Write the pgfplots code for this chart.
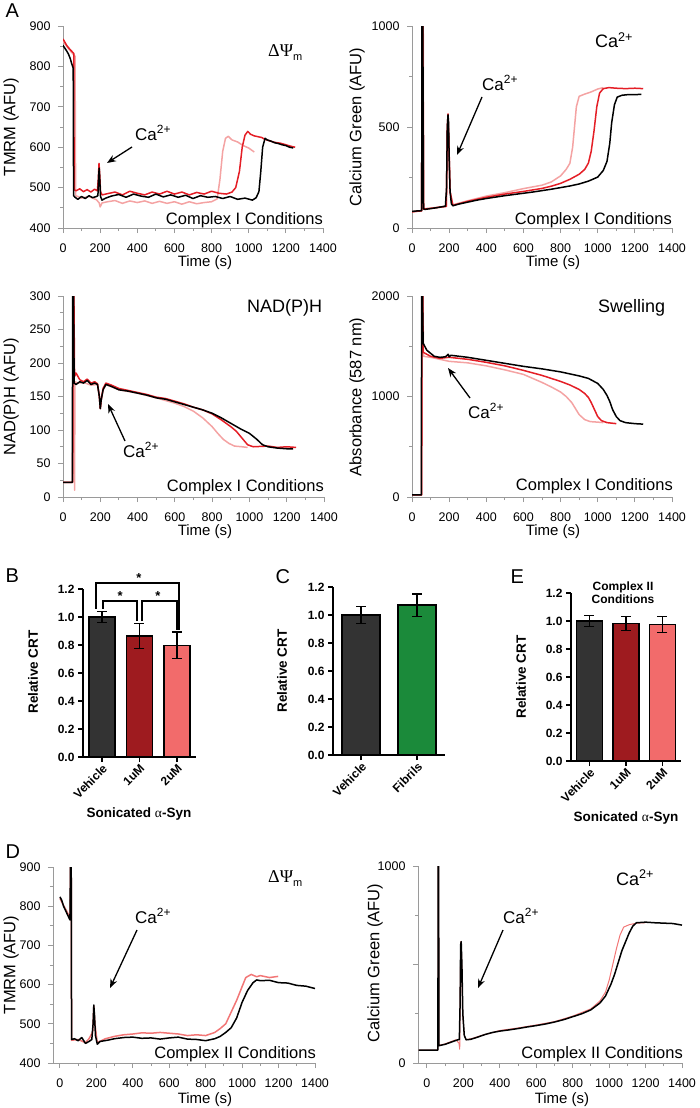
\documentclass[border=0pt]{standalone}
\usepackage{pgfplots}
\pgfplotsset{compat=1.18}
\usepackage{fontspec}
\setmainfont{Liberation Sans}
\newfontfamily\serifgr{Liberation Serif}
\usetikzlibrary{arrows.meta}
\definecolor{cred}{HTML}{E41E26}
\definecolor{cpink}{HTML}{F4A3A3}
\definecolor{csal}{HTML}{F27676}
\definecolor{bveh}{HTML}{333333}
\definecolor{bone}{HTML}{9E1B1F}
\definecolor{btwo}{HTML}{F26B6B}
\definecolor{bfib}{HTML}{1B8A3A}
\definecolor{axgray}{HTML}{9A9A9A}
\newcommand{\fs}[1]{\fontsize{#1}{#1}\selectfont}
\newcommand{\Ca}{Ca\textsuperscript{2+}}
\newcommand{\DPsi}{{\serifgr ΔΨ}\raisebox{-4pt}{\fs{11}m}}
\pgfplotsset{
 lp/.style={scale only axis, width=260pt, height=202pt,
   axis x line*=bottom, axis y line*=left,
   axis line style={-, draw=axgray, line width=0.9pt},
   tick style={draw=axgray, line width=0.9pt},
   tick align=outside, major tick length=5pt, minor tick length=3pt,
   xmin=0, xmax=1400, xtick={0,200,...,1400}, minor x tick num=1, minor y tick num=1,
   tick label style={font=\fs{12.5}},
   xticklabel style={yshift=-7pt}, yticklabel style={xshift=-4pt},
   /pgf/number format/assume math mode=true, /pgf/number format/1000 sep={},
   clip=true, every axis plot/.append style={line width=1.5pt, line join=round}},
 bp/.style={scale only axis, height=168pt,
   axis x line*=bottom, axis y line*=left,
   axis line style={-, black, line width=1.5pt},
   tick style={black, line width=1.5pt}, tick align=outside, major tick length=5pt,
   ymin=0, ymax=1.2, ytick={0,0.2,0.4,0.6,0.8,1.0,1.2},
   /pgf/number format/assume math mode=true,
   yticklabel style={/pgf/number format/fixed, /pgf/number format/fixed zerofill, /pgf/number format/precision=1, font=\bfseries\fs{12}},
   xticklabel style={rotate=45, anchor=north east, font=\bfseries\fs{12}, inner sep=1pt},
   clip=false},
 eb/.style={ybar, bar shift=0pt, draw=black, line width=1.5pt,
   /pgfplots/error bars/y dir=both, /pgfplots/error bars/y explicit,
   /pgfplots/error bars/error bar style={line width=1.5pt, black},
   /pgfplots/error bars/error mark options={rotate=90, line width=1.5pt, black, mark size=5pt}},
}
\begin{document}
\begin{tikzpicture}
\useasboundingbox (0pt,0pt) rectangle (700pt,-1108pt);
% ---------------- A1 TMRM
\begin{axis}[lp, at={(63pt,-228pt)}, anchor=south west, ymin=400, ymax=900, ytick={400,500,...,900}]
\addplot[cpink] coordinates {(0,862)(20,850)(40,838)(55,830)(65,825)(68,480)(80,478)(100,474)(140,478)(180,470)(195,462)(200,452)(210,462)(240,465)(280,468)(320,461)(360,467)(400,463)(440,467)(480,461)(520,466)(560,461)(600,465)(640,459)(680,465)(720,460)(760,463)(800,465)(830,472)(845,520)(860,590)(875,622)(890,627)(910,618)(940,613)(970,604)(1000,598)(1030,588)};
\addplot[cred] coordinates {(0,868)(10,860)(20,852)(30,846)(40,841)(50,836)(58,832)(60,495)(70,492)(90,497)(110,490)(130,495)(150,489)(170,496)(185,492)(190,520)(194,560)(198,530)(202,490)(210,482)(240,485)(280,489)(320,482)(360,491)(400,486)(440,482)(480,489)(520,484)(560,491)(600,484)(640,489)(680,482)(720,488)(760,484)(800,491)(840,486)(880,484)(910,489)(930,500)(950,540)(965,600)(980,630)(995,639)(1010,632)(1030,628)(1050,626)(1070,624)(1085,620)(1110,616)(1140,612)(1170,610)(1200,606)(1230,602)(1250,600)};
\addplot[black] coordinates {(0,852)(10,845)(20,838)(30,830)(40,818)(48,805)(52,800)(55,795)(57,480)(65,476)(80,471)(100,478)(120,473)(140,480)(160,475)(180,478)(188,480)(192,530)(195,548)(198,520)(202,478)(210,469)(230,474)(260,479)(300,483)(340,476)(380,484)(420,479)(460,476)(500,484)(540,477)(580,482)(620,476)(660,481)(700,473)(740,480)(780,476)(820,478)(860,473)(900,478)(940,471)(980,474)(1020,469)(1040,475)(1055,490)(1065,540)(1075,600)(1088,622)(1100,618)(1120,615)(1140,611)(1160,609)(1180,606)(1200,604)(1220,600)(1240,598)};
\end{axis}
% ---------------- A2 Calcium Green
\begin{axis}[lp, at={(412pt,-228pt)}, anchor=south west, ymin=0, ymax=1000, ytick={0,500,1000}]
\addplot[cpink] coordinates {(0,80)(30,83)(52,85)(54,1100)(60,1100)(64,95)(100,98)(150,104)(185,108)(190,480)(194,540)(198,420)(205,180)(220,115)(300,135)(400,158)(500,175)(600,195)(700,212)(750,228)(800,258)(830,290)(850,320)(865,400)(875,500)(885,600)(900,652)(930,663)(960,672)(1000,688)(1030,695)};
\addplot[cred] coordinates {(0,80)(30,83)(52,85)(54,1100)(58,1100)(62,94)(100,97)(150,103)(185,107)(190,500)(194,565)(198,450)(205,180)(220,112)(300,132)(400,152)(500,168)(600,181)(700,196)(750,207)(800,221)(850,241)(900,266)(930,290)(950,322)(965,380)(980,480)(995,600)(1010,668)(1030,690)(1060,695)(1100,692)(1150,690)(1200,692)(1245,690)};
\addplot[black] coordinates {(0,82)(20,84)(40,85)(52,86)(54,1100)(58,1100)(62,95)(70,92)(100,96)(130,100)(160,105)(180,108)(186,200)(190,500)(194,560)(197,520)(200,350)(205,180)(212,120)(220,110)(250,118)(300,128)(350,138)(400,146)(450,153)(500,160)(550,166)(600,172)(650,178)(700,185)(750,192)(800,200)(850,208)(900,218)(950,232)(1000,252)(1030,285)(1050,330)(1065,420)(1075,520)(1090,610)(1105,648)(1130,657)(1160,660)(1200,660)(1235,662)};
\end{axis}
% ---------------- A3 NAD(P)H
\begin{axis}[lp, at={(63pt,-497pt)}, anchor=south west, width=261pt, height=201pt, ymin=0, ymax=300, ytick={0,50,...,300}]
\addplot[cpink] coordinates {(0,22)(40,22)(52,22)(54,320)(58,320)(62,10)(64,172)(80,170)(110,171)(150,167)(185,168)(195,150)(200,132)(205,145)(215,160)(230,168)(300,160)(400,155)(500,148)(600,140)(650,135)(700,128)(750,118)(800,105)(830,95)(860,86)(890,80)(920,76)(960,75)(990,74)};
\addplot[cred] coordinates {(0,22)(40,22)(52,22)(54,320)(58,320)(62,180)(70,185)(90,175)(110,172)(130,176)(150,170)(170,172)(185,169)(195,150)(200,132)(205,145)(215,162)(230,170)(260,167)(300,162)(350,159)(400,156)(450,153)(500,149)(550,147)(600,143)(650,139)(700,134)(750,130)(800,124)(850,115)(900,105)(930,98)(960,88)(990,78)(1020,75)(1100,76)(1150,74)(1200,75)(1250,74)};
\addplot[black] coordinates {(0,22)(20,22)(40,22)(50,22)(52,320)(56,320)(60,170)(70,168)(90,172)(110,170)(130,174)(150,168)(170,170)(185,168)(195,150)(200,132)(205,145)(215,160)(230,168)(260,165)(300,160)(350,158)(400,155)(450,152)(500,148)(550,146)(600,142)(650,138)(700,134)(750,130)(800,125)(850,118)(900,110)(950,102)(1000,95)(1040,86)(1070,78)(1100,75)(1150,73)(1200,72)(1235,72)};
\end{axis}
% ---------------- A4 Swelling
\begin{axis}[lp, at={(412pt,-497pt)}, anchor=south west, width=260pt, height=201pt, ymin=0, ymax=2000, ytick={0,1000,2000}]
\addplot[cpink] coordinates {(0,20)(40,20)(52,20)(54,2100)(58,2100)(62,1400)(100,1390)(150,1370)(200,1350)(300,1335)(400,1305)(500,1265)(600,1220)(700,1140)(750,1095)(800,1045)(830,1000)(860,940)(880,880)(900,820)(930,770)(960,750)(1000,745)(1030,740)};
\addplot[cred] coordinates {(0,20)(40,20)(52,20)(54,2100)(58,2100)(60,1440)(100,1400)(150,1380)(200,1390)(300,1370)(400,1340)(500,1305)(600,1260)(700,1210)(800,1150)(850,1115)(900,1070)(930,1030)(950,990)(965,940)(985,860)(1000,800)(1020,760)(1050,740)(1100,730)};
\addplot[black] coordinates {(0,20)(40,20)(50,20)(52,2100)(56,2100)(60,1530)(80,1460)(100,1430)(120,1400)(150,1390)(180,1395)(195,1420)(200,1395)(210,1410)(300,1390)(400,1360)(500,1330)(600,1300)(700,1275)(800,1245)(900,1205)(950,1180)(1000,1130)(1030,1070)(1050,1010)(1065,950)(1080,870)(1100,800)(1120,760)(1150,740)(1200,730)(1245,725)};
\end{axis}
% ---------------- B
\begin{axis}[bp, at={(83pt,-757pt)}, anchor=south west, width=112.5pt, xmin=-0.5, xmax=2.5, xtick={0,1,2}, xticklabels={Vehicle,1uM,2uM}]
\addplot[eb, bar width=26pt, fill=bveh] coordinates {(0,1.0) +- (0,0.04)};
\addplot[eb, bar width=26pt, fill=bone] coordinates {(1,0.865) +- (0,0.09)};
\addplot[eb, bar width=26pt, fill=btwo] coordinates {(2,0.797) +- (0,0.095)};
\draw[line width=1.8pt] (axis cs:-0.15,1.06) -- (axis cs:-0.15,1.245) -- (axis cs:2.07,1.245) -- (axis cs:2.07,0.91);
\draw[line width=1.8pt] (axis cs:0.03,1.06) -- (axis cs:0.03,1.115) -- (axis cs:0.93,1.115) -- (axis cs:0.93,0.97);
\draw[line width=1.8pt] (axis cs:1.07,0.97) -- (axis cs:1.07,1.115) -- (axis cs:2.0,1.115) -- (axis cs:2.0,0.91);
\node[font=\bfseries\fs{13}] at (axis cs:0.99,1.28) {*};
\node[font=\bfseries\fs{13}] at (axis cs:0.49,1.15) {*};
\node[font=\bfseries\fs{13}] at (axis cs:1.5,1.15) {*};
\end{axis}
% ---------------- C
\begin{axis}[bp, at={(333pt,-755pt)}, anchor=south west, width=112pt, xmin=-0.5, xmax=1.5, xtick={0,1}, xticklabels={Vehicle,Fibrils}]
\addplot[eb, bar width=38pt, fill=bveh] coordinates {(0,1.0) +- (0,0.06)};
\addplot[eb, bar width=38pt, fill=bfib] coordinates {(1,1.07) +- (0,0.08)};
\end{axis}
% ---------------- E
\begin{axis}[bp, at={(571pt,-761pt)}, anchor=south west, width=109.5pt, xmin=-0.5, xmax=2.5, xtick={0,1,2}, xticklabels={Vehicle,1uM,2uM}]
\addplot[eb, bar width=26pt, fill=bveh] coordinates {(0,1.0) +- (0,0.04)};
\addplot[eb, bar width=26pt, fill=bone] coordinates {(1,0.983) +- (0,0.05)};
\addplot[eb, bar width=26pt, fill=btwo] coordinates {(2,0.975) +- (0,0.057)};
\end{axis}
% ---------------- D1 TMRM complex II
\begin{axis}[lp, at={(53pt,-1063pt)}, anchor=south west, width=262pt, height=196pt, xmin=-38, ymin=400, ymax=900, ytick={400,500,...,900}]
\addplot[csal] coordinates {(0,820)(20,802)(40,785)(50,775)(56,770)(58,910)(62,910)(64,458)(100,460)(140,452)(160,462)(180,480)(186,545)(192,500)(205,452)(250,462)(300,468)(350,472)(400,474)(450,477)(500,476)(550,478)(600,476)(650,474)(700,470)(750,472)(800,470)(850,478)(880,488)(910,500)(940,530)(970,560)(1000,595)(1020,618)(1050,626)(1080,620)(1100,623)(1150,618)(1198,621)};
\addplot[black] coordinates {(0,824)(10,815)(20,800)(30,790)(40,780)(50,770)(55,765)(58,910)(62,910)(64,460)(80,462)(100,457)(120,465)(140,450)(160,455)(175,460)(182,500)(186,548)(190,520)(195,470)(205,448)(220,455)(260,458)(300,462)(350,465)(400,466)(450,463)(500,464)(550,461)(600,464)(650,466)(700,461)(750,460)(800,457)(850,462)(880,468)(910,478)(940,490)(970,515)(1000,555)(1030,585)(1060,605)(1080,612)(1100,610)(1150,611)(1200,605)(1250,604)(1300,598)(1350,596)(1400,590)};
\end{axis}
% ---------------- D2 Calcium Green complex II
\begin{axis}[lp, at={(418pt,-1063pt)}, anchor=south west, width=264pt, height=197pt, xmin=-49, ymin=0, ymax=1000, ytick={0,500,1000}, yticklabels={0,,1000}]
\addplot[csal, line width=1pt] coordinates {(-45,66)(60,66)(62,1050)(64,1050)(66,90)(100,97)(130,108)(160,118)(176,100)(180,70)(183,400)(186,616)(190,550)(196,250)(205,140)(215,118)(250,125)(300,140)(400,165)(500,178)(600,193)(700,210)(800,238)(900,275)(950,315)(980,360)(1000,420)(1020,500)(1040,580)(1060,650)(1080,690)(1110,702)(1150,710)(1197,712)};
\addplot[black] coordinates {(-45,66)(0,66)(40,66)(60,66)(62,1050)(64,1050)(66,88)(100,95)(130,105)(160,115)(178,120)(182,300)(185,600)(188,616)(192,500)(197,250)(205,140)(215,118)(240,120)(280,132)(320,145)(360,155)(400,162)(450,168)(500,175)(550,183)(600,190)(650,198)(700,208)(750,220)(800,235)(850,250)(900,270)(950,305)(980,340)(1010,400)(1030,450)(1050,510)(1070,570)(1090,615)(1110,660)(1130,695)(1150,712)(1200,715)(1250,712)(1300,710)(1350,708)(1400,700)};
\end{axis}
% ---------------- text
\tikzset{lab/.style={font=\fs{20}, anchor=base west}}
\node[lab] at (2pt,-18pt) {A};
\node[lab] at (2pt,-582pt) {B};
\node[lab] at (272pt,-583pt) {C};
\node[lab] at (2pt,-858pt) {D};
\node[lab] at (507pt,-583pt) {E};
% y labels
\tikzset{yl/.style={font=\fs{16.5}, rotate=90}}
\node[yl] at (11pt,-127pt) {TMRM (AFU)};
\node[yl] at (357pt,-127pt) {Calcium Green (AFU)};
\node[yl] at (11pt,-397pt) {NAD(P)H (AFU)};
\node[yl] at (357pt,-397pt) {Absorbance (587 nm)};
\node[yl] at (11pt,-965pt) {TMRM (AFU)};
\node[yl] at (375pt,-963pt) {Calcium Green (AFU)};
% x labels
\tikzset{xl/.style={font=\fs{15}}}
\node[xl] at (205pt,-263pt) {Time (s)};
\node[xl] at (553pt,-263pt) {Time (s)};
\node[xl] at (205pt,-532pt) {Time (s)};
\node[xl] at (553pt,-532pt) {Time (s)};
\node[xl] at (205pt,-1100pt) {Time (s)};
\node[xl] at (562pt,-1100pt) {Time (s)};
% conditions
\tikzset{cond/.style={font=\fs{16.5}, anchor=base east, inner sep=0pt}}
\node[cond] at (323pt,-224pt) {Complex I Conditions};
\node[cond] at (672pt,-224pt) {Complex I Conditions};
\node[cond] at (324pt,-491pt) {Complex I Conditions};
\node[cond] at (673pt,-490pt) {Complex I Conditions};
\node[cond] at (316pt,-1058pt) {Complex II Conditions};
\node[cond] at (683pt,-1058pt) {Complex II Conditions};
% titles
\tikzset{ttl/.style={font=\fs{18}, anchor=base west, inner sep=0pt}}
\node[ttl] at (268pt,-57pt) {\DPsi};
\node[ttl] at (595pt,-48pt) {\Ca};
\node[ttl] at (247pt,-312pt) {NAD(P)H};
\node[ttl] at (598pt,-312pt) {Swelling};
\node[ttl] at (268pt,-882pt) {\DPsi};
\node[ttl] at (616pt,-885pt) {\Ca};
% Ca annotations
\tikzset{ann/.style={font=\fs{17}, anchor=base west, inner sep=0pt}, arr/.style={-{Stealth[length=9pt,width=7pt]}, line width=1.3pt}}
\node[ann] at (135pt,-140pt) {\Ca}; \draw[arr] (132pt,-147pt) -- (107pt,-163pt);
\node[ann] at (482pt,-90pt) {\Ca}; \draw[arr] (482pt,-97pt) -- (457pt,-155pt);
\node[ann] at (123pt,-457pt) {\Ca}; \draw[arr] (125pt,-441pt) -- (108pt,-404pt);
\node[ann] at (468pt,-418pt) {\Ca}; \draw[arr] (470pt,-398pt) -- (448pt,-368pt);
\node[ann] at (135pt,-923pt) {\Ca}; \draw[arr] (137pt,-930pt) -- (110pt,-988pt);
\node[ann] at (503pt,-923pt) {\Ca}; \draw[arr] (503pt,-930pt) -- (478pt,-988pt);
% bar chart labels
\tikzset{bl/.style={font=\bfseries\fs{13.5}}}
\node[bl, rotate=90] at (33pt,-672pt) {Relative CRT};
\node[bl, rotate=90] at (282pt,-671pt) {Relative CRT};
\node[bl, rotate=90] at (521pt,-677pt) {Relative CRT};
\node[bl, anchor=base] at (139pt,-817pt) {Sonicated {\serifgr\mdseries α}-Syn};
\node[bl, anchor=base] at (626pt,-821pt) {Sonicated {\serifgr\mdseries α}-Syn};
\node[font=\bfseries\fs{12}, anchor=base] at (623pt,-590pt) {Complex II};
\node[font=\bfseries\fs{12}, anchor=base] at (623pt,-603pt) {Conditions};
\end{tikzpicture}
\end{document}
